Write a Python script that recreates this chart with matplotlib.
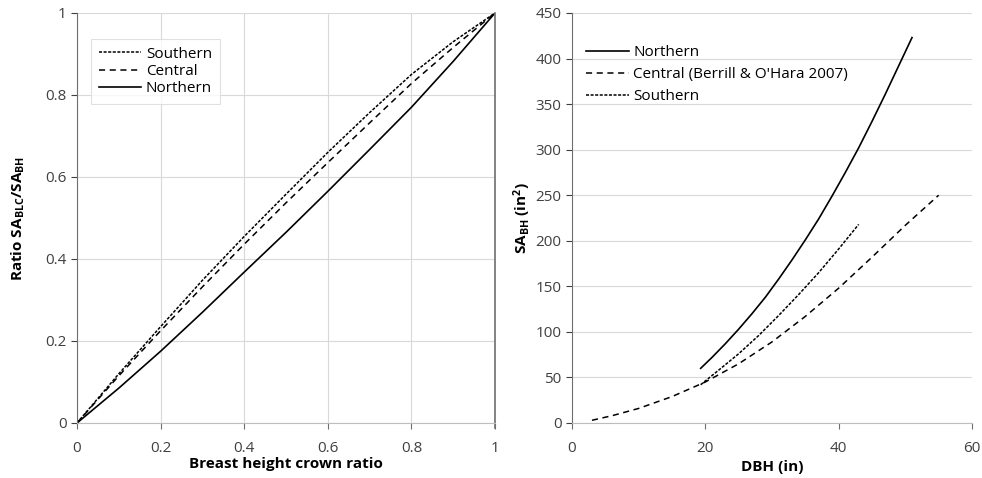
import numpy as np
from matplotlib import pyplot as plt

plt.rcParams["font.family"] = ["Open Sans", "DejaVu Sans"]
plt.rcParams["mathtext.default"] = "regular"

# left panel: ratio vs crown ratio
CROWN_RATIO = [0, 0.1, 0.2, 0.3, 0.4, 0.5, 0.6, 0.7, 0.8, 0.9, 1.0]
RATIO_SOUTHERN = [0, 0.12, 0.235, 0.348, 0.455, 0.558, 0.66, 0.757, 0.85, 0.93, 1.0]
RATIO_CENTRAL = [0, 0.115, 0.225, 0.332, 0.436, 0.537, 0.635, 0.732, 0.828, 0.916, 1.0]
RATIO_NORTHERN = [0, 0.085, 0.175, 0.27, 0.368, 0.465, 0.565, 0.667, 0.77, 0.882, 1.0]

# right panel: SA_BH vs DBH
DBH_NORTHERN = [19.3, 21, 23, 25, 27, 29, 31, 33, 35, 37, 39, 41, 43, 45, 47, 49, 51]
SA_NORTHERN = [60, 72, 87, 103, 120, 138, 158, 179, 201, 224, 249, 275, 302, 331, 361, 392, 423]
DBH_CENTRAL = [3, 6, 10, 15, 20, 25, 30, 35, 40, 45, 50, 55]
SA_CENTRAL = [3, 8, 16, 29, 45, 65, 89, 117, 148, 182, 217, 250]
DBH_SOUTHERN = [19.3, 22, 25, 28, 31, 34, 37, 40, 43]
SA_SOUTHERN = [42, 58, 76, 96, 118, 141, 165, 191, 218]

SOUTH_STYLE = (0, (2, 1))
CENTRAL_STYLE = (0, (4, 3))

fig = plt.figure(figsize=(9.82, 4.78), dpi=100)
ax1 = fig.add_axes([77 / 982, 55 / 478, 418 / 982, 410 / 478])
ax2 = fig.add_axes([572 / 982, 55 / 478, 400 / 982, 410 / 478])

for ax in (ax1, ax2):
    for side in ("top", "right"):
        ax.spines[side].set_visible(False)
    ax.spines["left"].set_color("#6e6e6e")
    ax.spines["bottom"].set_color("#bdbdbd")
    ax.tick_params(colors="#404040", labelsize=11, length=4)
    ax.tick_params(axis="x", color="#6e6e6e", pad=9)
    ax.set_axisbelow(True)

# left
ax1.plot(CROWN_RATIO, RATIO_SOUTHERN, color="black", lw=1.1, ls=SOUTH_STYLE, label="Southern")
ax1.plot(CROWN_RATIO, RATIO_CENTRAL, color="black", lw=1.1, ls=CENTRAL_STYLE, label="Central")
ax1.plot(CROWN_RATIO, RATIO_NORTHERN, color="black", lw=1.2, label="Northern")
ax1.set_xlim(0, 1)
ax1.set_ylim(0, 1)
ax1.set_xticks(np.arange(0, 1.01, 0.2))
ax1.set_yticks(np.arange(0, 1.01, 0.2))
ax1.set_xticklabels(["0", "0.2", "0.4", "0.6", "0.8", "1"])
ax1.set_yticklabels(["0", "0.2", "0.4", "0.6", "0.8", "1"])
ax1.grid(True, color="#d9d9d9", lw=0.8)
ax1.axvline(1, color="#6e6e6e", lw=1.2, ymin=-0.012, clip_on=False)
ax1.set_xlabel("Breast height crown ratio", fontsize=11, fontweight="bold", labelpad=1)
ax1.set_ylabel("Ratio SA$_{BLC}$/SA$_{BH}$", fontsize=11, fontweight="bold", labelpad=13)
leg1 = ax1.legend(loc="upper left", bbox_to_anchor=(0.015, 0.955), fontsize=11,
                  frameon=True, fancybox=False, handlelength=2.8, handletextpad=0.3,
                  labelspacing=0.15, borderpad=0.5)
leg1.get_frame().set_edgecolor("#d9d9d9")
leg1.get_frame().set_linewidth(0.8)

# right
ax2.plot(DBH_NORTHERN, SA_NORTHERN, color="black", lw=1.2, label="Northern")
ax2.plot(DBH_CENTRAL, SA_CENTRAL, color="black", lw=1.1, ls=CENTRAL_STYLE,
         label="Central (Berrill & O'Hara 2007)")
ax2.plot(DBH_SOUTHERN, SA_SOUTHERN, color="black", lw=1.1, ls=SOUTH_STYLE, label="Southern")
ax2.set_xlim(0, 60)
ax2.set_ylim(0, 450)
ax2.set_xticks([0, 20, 40, 60])
ax2.set_yticks(np.arange(0, 451, 50))
ax2.grid(True, axis="y", color="#d9d9d9", lw=0.8)
ax2.set_xlabel("DBH (in)", fontsize=11, fontweight="bold", labelpad=3)
ax2.set_ylabel("SA$_{BH}$ (in$^2$)", fontsize=11, fontweight="bold", labelpad=2)
ax2.legend(loc="upper left", bbox_to_anchor=(0.0, 0.955), fontsize=11, frameon=False,
           handlelength=2.8, handletextpad=0.3, labelspacing=0.45)

fig.savefig("out.png", dpi=100)
